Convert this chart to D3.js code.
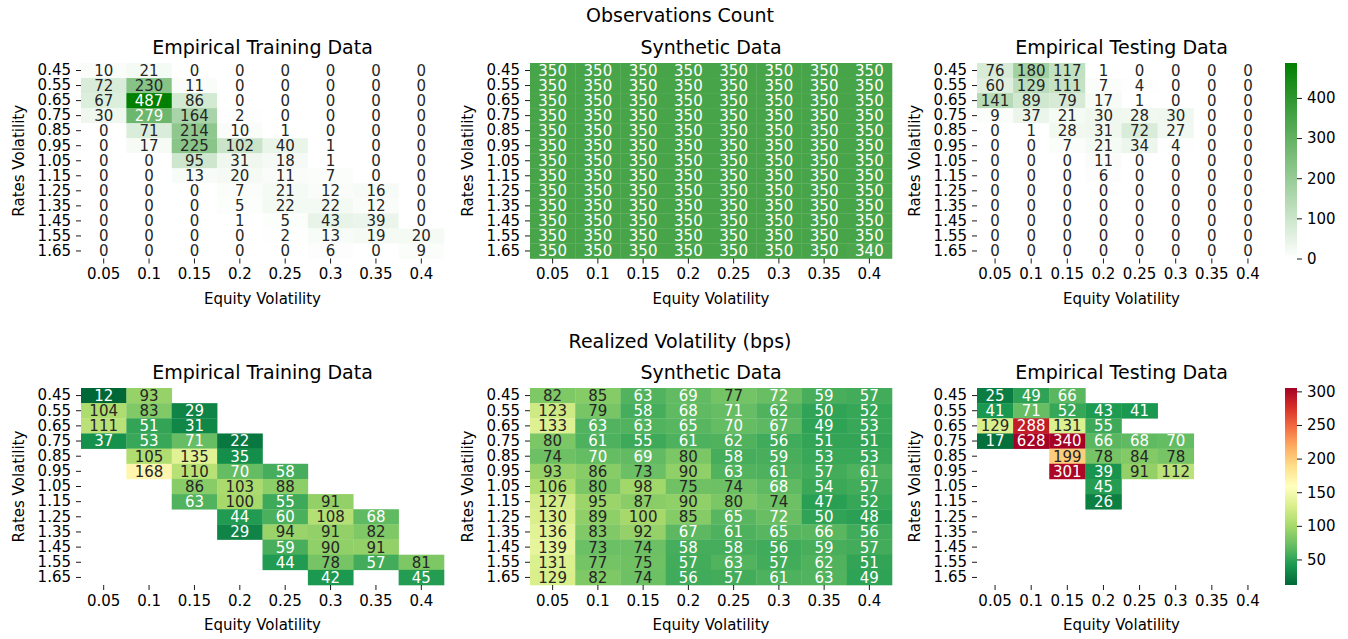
<!DOCTYPE html>
<html>
<head>
<meta charset="utf-8">
<script src="https://cdn.jsdelivr.net/npm/d3@7"></script>
<style>
  body { margin: 0; background: #fff; }
  svg { font-family: "DejaVu Sans", sans-serif; }
</style>
</head>
<body>
<svg id="chart" width="1348" height="639"></svg>
<script>
const rateVol = ["0.45", "0.55", "0.65", "0.75", "0.85", "0.95", "1.05", "1.15", "1.25", "1.35", "1.45", "1.55", "1.65"];
const equityVol = ["0.05", "0.1", "0.15", "0.2", "0.25", "0.3", "0.35", "0.4"];

// observation counts
const countTrain = [
  [10, 21, 0, 0, 0, 0, 0, 0],
  [72, 230, 11, 0, 0, 0, 0, 0],
  [67, 487, 86, 0, 0, 0, 0, 0],
  [30, 279, 164, 2, 0, 0, 0, 0],
  [0, 71, 214, 10, 1, 0, 0, 0],
  [0, 17, 225, 102, 40, 1, 0, 0],
  [0, 0, 95, 31, 18, 1, 0, 0],
  [0, 0, 13, 20, 11, 7, 0, 0],
  [0, 0, 0, 7, 21, 12, 16, 0],
  [0, 0, 0, 5, 22, 22, 12, 0],
  [0, 0, 0, 1, 5, 43, 39, 0],
  [0, 0, 0, 0, 2, 13, 19, 20],
  [0, 0, 0, 0, 0, 6, 0, 9]
];
const countSynth = [
  [350, 350, 350, 350, 350, 350, 350, 350],
  [350, 350, 350, 350, 350, 350, 350, 350],
  [350, 350, 350, 350, 350, 350, 350, 350],
  [350, 350, 350, 350, 350, 350, 350, 350],
  [350, 350, 350, 350, 350, 350, 350, 350],
  [350, 350, 350, 350, 350, 350, 350, 350],
  [350, 350, 350, 350, 350, 350, 350, 350],
  [350, 350, 350, 350, 350, 350, 350, 350],
  [350, 350, 350, 350, 350, 350, 350, 350],
  [350, 350, 350, 350, 350, 350, 350, 350],
  [350, 350, 350, 350, 350, 350, 350, 350],
  [350, 350, 350, 350, 350, 350, 350, 350],
  [350, 350, 350, 350, 350, 350, 350, 340]
];
const countTest = [
  [76, 180, 117, 1, 0, 0, 0, 0],
  [60, 129, 111, 7, 4, 0, 0, 0],
  [141, 89, 79, 17, 1, 0, 0, 0],
  [9, 37, 21, 30, 28, 30, 0, 0],
  [0, 1, 28, 31, 72, 27, 0, 0],
  [0, 0, 7, 21, 34, 4, 0, 0],
  [0, 0, 0, 11, 0, 0, 0, 0],
  [0, 0, 0, 6, 0, 0, 0, 0],
  [0, 0, 0, 0, 0, 0, 0, 0],
  [0, 0, 0, 0, 0, 0, 0, 0],
  [0, 0, 0, 0, 0, 0, 0, 0],
  [0, 0, 0, 0, 0, 0, 0, 0],
  [0, 0, 0, 0, 0, 0, 0, 0]
];

// realized volatility (bps), null = no data
const volTrain = [
  [12, 93, null, null, null, null, null, null],
  [104, 83, 29, null, null, null, null, null],
  [111, 51, 31, null, null, null, null, null],
  [37, 53, 71, 22, null, null, null, null],
  [null, 105, 135, 35, null, null, null, null],
  [null, 168, 110, 70, 58, null, null, null],
  [null, null, 86, 103, 88, null, null, null],
  [null, null, 63, 100, 55, 91, null, null],
  [null, null, null, 44, 60, 108, 68, null],
  [null, null, null, 29, 94, 91, 82, null],
  [null, null, null, null, 59, 90, 91, null],
  [null, null, null, null, 44, 78, 57, 81],
  [null, null, null, null, null, 42, null, 45]
];
const volSynth = [
  [82, 85, 63, 69, 77, 72, 59, 57],
  [123, 79, 58, 68, 71, 62, 50, 52],
  [133, 63, 63, 65, 70, 67, 49, 53],
  [80, 61, 55, 61, 62, 56, 51, 51],
  [74, 70, 69, 80, 58, 59, 53, 53],
  [93, 86, 73, 90, 63, 61, 57, 61],
  [106, 80, 98, 75, 74, 68, 54, 57],
  [127, 95, 87, 90, 80, 74, 47, 52],
  [130, 89, 100, 85, 65, 72, 50, 48],
  [136, 83, 92, 67, 61, 65, 66, 56],
  [139, 73, 74, 58, 58, 56, 59, 57],
  [131, 77, 75, 57, 63, 57, 62, 51],
  [129, 82, 74, 56, 57, 61, 63, 49]
];
const volTest = [
  [25, 49, 66, null, null, null, null, null],
  [41, 71, 52, 43, 41, null, null, null],
  [129, 288, 131, 55, null, null, null, null],
  [17, 628, 340, 66, 68, 70, null, null],
  [null, null, 199, 78, 84, 78, null, null],
  [null, null, 301, 39, 91, 112, null, null],
  [null, null, null, 45, null, null, null, null],
  [null, null, null, 26, null, null, null, null],
  [null, null, null, null, null, null, null, null],
  [null, null, null, null, null, null, null, null],
  [null, null, null, null, null, null, null, null],
  [null, null, null, null, null, null, null, null],
  [null, null, null, null, null, null, null, null]
];

const panelTitles = ["Empirical Training Data", "Synthetic Data", "Empirical Testing Data"];
const rowTitles = ["Observations Count", "Realized Volatility (bps)"];
const countTicks = [0, 100, 200, 300, 400];
const volTicks = [50, 100, 150, 200, 250, 300];

const rdylgn = ["#a50026", "#d73027", "#f46d43", "#fdae61", "#fee08b", "#ffffbf",
                "#d9ef8b", "#a6d96a", "#66bd63", "#1a9850", "#006837"];

const svg = d3.select("#chart");
const colPos = [[81, 444], [530, 892], [977, 1266]];
const rowPos = [[63, 258.5], [388, 585]];
const cbX = [1285, 1297];

const countMin = 0, countMax = 487;
const volMin = 12, volMax = 305;

const countColor = d3.scaleLinear().domain([countMin, countMax])
  .range(["#ffffff", "#008000"]).clamp(true);
const volDomain = d3.range(11).map(i => volMin + (volMax - volMin) * i / 10);
const volColor = d3.scaleLinear().domain(volDomain)
  .range(rdylgn.slice().reverse()).clamp(true);

// relative luminance, used to pick the annotation colour like seaborn does
function lum(c) {
  const rgb = d3.rgb(c);
  const f = v => { v /= 255; return v <= 0.03928 ? v / 12.92 : Math.pow((v + 0.055) / 1.055, 2.4); };
  return 0.2126 * f(rgb.r) + 0.7152 * f(rgb.g) + 0.0722 * f(rgb.b);
}

const rowsData = [
  { data: [countTrain, countSynth, countTest], color: countColor, ticks: countTicks, dom: [countMin, countMax] },
  { data: [volTrain, volSynth, volTest], color: volColor, ticks: volTicks, dom: [volMin, volMax] }
];

rowsData.forEach((row, r) => {
  const [y0, y1] = rowPos[r];
  svg.append("text")
    .attr("x", 680).attr("y", r === 0 ? 22 : 348)
    .attr("text-anchor", "middle").attr("font-size", 19)
    .text(rowTitles[r]);

  row.data.forEach((mat, c) => {
    const [x0, x1] = colPos[c];
    const x = d3.scaleBand().domain(equityVol).range([x0, x1]);
    const y = d3.scaleBand().domain(rateVol).range([y0, y1]);
    const g = svg.append("g");

    const cells = [];
    mat.forEach((vals, i) => vals.forEach((v, j) => {
      if (v !== null) cells.push({ r: rateVol[i], e: equityVol[j], v: v });
    }));

    g.selectAll("rect").data(cells).join("rect")
      .attr("x", d => x(d.e)).attr("y", d => y(d.r))
      .attr("width", x.bandwidth() + 0.3).attr("height", y.bandwidth() + 0.3)
      .attr("fill", d => row.color(d.v));

    g.selectAll("text.annot").data(cells).join("text")
      .attr("class", "annot")
      .attr("x", d => x(d.e) + x.bandwidth() / 2)
      .attr("y", d => y(d.r) + y.bandwidth() / 2)
      .attr("dy", "0.36em")
      .attr("text-anchor", "middle").attr("font-size", 15)
      .attr("fill", d => lum(row.color(d.v)) > 0.408 ? "#262626" : "#ffffff")
      .text(d => d.v);

    const xAxis = svg.append("g")
      .attr("transform", `translate(0,${y1})`)
      .call(d3.axisBottom(x).tickSize(5).tickPadding(5));
    const yAxis = svg.append("g")
      .attr("transform", `translate(${x0},0)`)
      .call(d3.axisLeft(y).tickSize(5).tickPadding(5));
    [xAxis, yAxis].forEach(a => {
      a.select(".domain").remove();
      a.selectAll("text").attr("font-size", 15).attr("font-family", "DejaVu Sans").attr("fill", "#000");
      a.selectAll("line").attr("stroke", "#000").attr("stroke-width", 0.9);
    });

    svg.append("text")
      .attr("x", (x0 + x1) / 2).attr("y", y0 - 9)
      .attr("text-anchor", "middle").attr("font-size", 19)
      .text(panelTitles[c]);
    svg.append("text")
      .attr("x", (x0 + x1) / 2).attr("y", y1 + 45)
      .attr("text-anchor", "middle").attr("font-size", 15)
      .text("Equity Volatility");
    const ly = (y0 + y1) / 2;
    const lx = x0 - 57;
    svg.append("text")
      .attr("transform", `translate(${lx},${ly}) rotate(-90)`)
      .attr("text-anchor", "middle").attr("font-size", 15)
      .text("Rates Volatility");
  });

  // colorbar
  const gid = "grad" + r;
  const grad = svg.append("defs").append("linearGradient")
    .attr("id", gid).attr("x1", 0).attr("y1", 1).attr("x2", 0).attr("y2", 0);
  d3.range(21).forEach(i => {
    const t = i / 20;
    grad.append("stop").attr("offset", t)
      .attr("stop-color", row.color(row.dom[0] + t * (row.dom[1] - row.dom[0])));
  });
  svg.append("rect")
    .attr("x", cbX[0]).attr("y", y0)
    .attr("width", cbX[1] - cbX[0]).attr("height", y1 - y0)
    .attr("fill", `url(#${gid})`);
  const cbScale = d3.scaleLinear().domain(row.dom).range([y1, y0]);
  const cbAxis = svg.append("g")
    .attr("transform", `translate(${cbX[1]},0)`)
    .call(d3.axisRight(cbScale).tickValues(row.ticks).tickSize(5).tickPadding(5));
  cbAxis.select(".domain").remove();
  cbAxis.selectAll("text").attr("font-size", 15).attr("font-family", "DejaVu Sans").attr("fill", "#000");
  cbAxis.selectAll("line").attr("stroke", "#000").attr("stroke-width", 0.9);
});
</script>
</body>
</html>
